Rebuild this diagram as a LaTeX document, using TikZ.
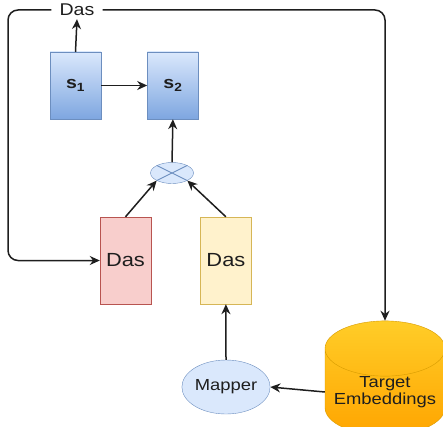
\documentclass[tikz,border=0pt]{standalone}
\usepackage{fontspec}
\setmainfont{Liberation Sans}[FakeStretch=1.15]
\usetikzlibrary{arrows.meta, positioning, shapes.geometric}
\definecolor{blueFill}{HTML}{DAE8FC}
\definecolor{blueDark}{HTML}{7EA6E0}
\definecolor{blueLine}{HTML}{6C8EBF}
\definecolor{redFill}{HTML}{F8CECC}
\definecolor{redLine}{HTML}{B85450}
\definecolor{yelFill}{HTML}{FFF2CC}
\definecolor{yelLine}{HTML}{D6B656}
\definecolor{orgTop}{HTML}{FFCD28}
\definecolor{orgBot}{HTML}{FFA500}
\definecolor{orgLine}{HTML}{D79B00}
\definecolor{ink}{HTML}{1E1E1E}
\tikzset{
  state/.style={rectangle, draw=blueLine, top color=blueFill, bottom color=blueDark,
                minimum width=51pt, minimum height=67pt, inner sep=0pt,
                font=\fontsize{17}{19}\selectfont\bfseries},
  vecbox/.style={rectangle, draw, minimum width=51pt, minimum height=87pt,
                 inner sep=0pt, font=\fontsize{19}{21}\selectfont},
  arrow/.style={-{Stealth[length=10pt,width=9pt]}, line width=1.5pt, draw=ink}
}

\begin{document}
\begin{tikzpicture}[x=1pt, y=1pt, node distance=46pt and 46pt, text=ink]
\useasboundingbox (0,0) rectangle (443,426);

% Top: output label + states
\node[font=\fontsize{17}{19}\selectfont, inner xsep=8pt, inner ysep=3pt] (out) at (77,416) {Das};
\node[state] (s1) at (75.5,340.5) {s\textsubscript{1}};
\node[state, right=46pt of s1] (s2) {s\textsubscript{2}};

% Middle: combination + vectors
\node[ellipse, draw=blueLine, fill=blueFill, minimum width=43pt, minimum height=21pt,
      inner sep=0pt] (mult) at (172,253) {};
\draw[blueLine, line width=0.9pt] (mult.north west) -- (mult.south east)
                                  (mult.north east) -- (mult.south west);
\node[vecbox, draw=redLine, fill=redFill] (src) at (125.5,165.5) {Das};
\node[vecbox, draw=yelLine, fill=yelFill, right=49pt of src] (tgt) {Das};

% Bottom: mapper + embeddings
\node[ellipse, draw=blueLine, fill=blueFill, minimum width=84pt, minimum height=54pt,
      inner sep=0pt, font=\fontsize{16}{18}\selectfont] (mapper) at (226,39) {Mapper};
\node[cylinder, shape border rotate=90, aspect=0.54, draw=orgLine,
      top color=orgTop, bottom color=orgBot, minimum width=120pt, minimum height=82pt,
      inner sep=0pt, align=center, font=\fontsize{16}{17}\selectfont] (emb) at (385,34)
      {Target\\Embeddings};

% --- Connections ---
\coordinate (loop) at (8,416);
\draw[arrow] (s1.north) -- (out.south);
\draw[arrow] (s1.east) -- (s2.west);
\draw[arrow] (mult.north) -- (s2.south);
\draw[arrow] (src.north) -- (mult.south west);
\draw[arrow] (tgt.north) -- (mult.south east);
\draw[arrow] (mapper.north) -- (tgt.south);
\draw[arrow] (emb.west) -- (mapper.east);
\draw[arrow, rounded corners=10pt] (out.west) -- (loop) |- (src.west);
\draw[arrow, rounded corners=10pt] (out.east) -| (emb.north);

\end{tikzpicture}
\end{document}
